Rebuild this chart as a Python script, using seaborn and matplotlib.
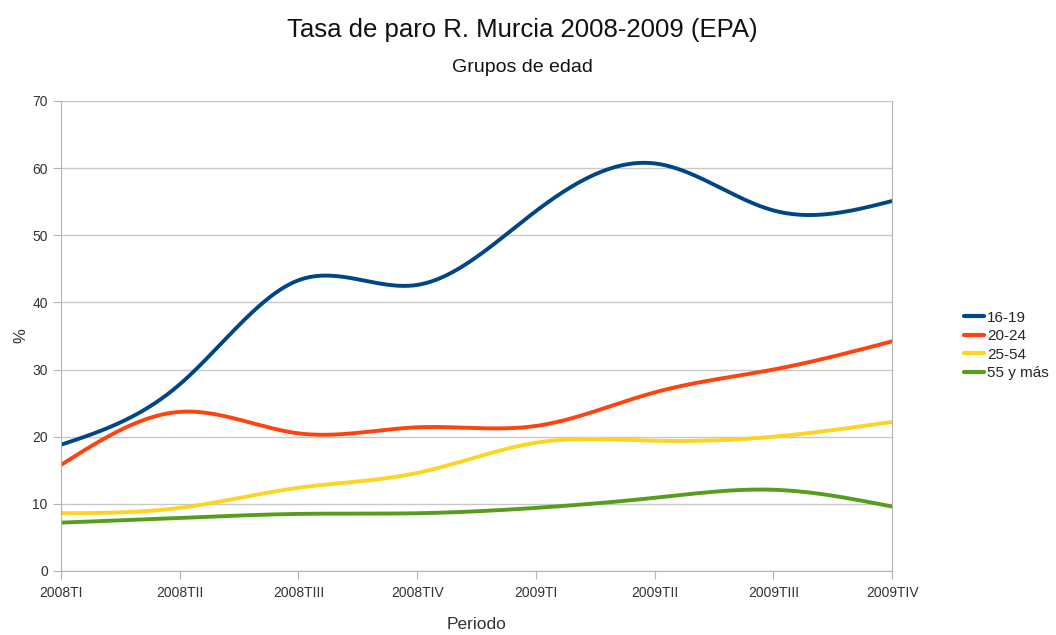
import numpy as np
import pandas as pd
import seaborn as sns
from matplotlib import pyplot as plt

# Data
periods = ['2008TI', '2008TII', '2008TIII', '2008TIV',
           '2009TI', '2009TII', '2009TIII', '2009TIV']
g16_19 = [18.8, 27.8, 43.3, 42.6, 53.6, 60.7, 53.7, 55.1]
g20_24 = [15.8, 23.7, 20.5, 21.4, 21.6, 26.6, 30.0, 34.2]
g25_54 = [8.6, 9.4, 12.4, 14.6, 19.1, 19.4, 20.0, 22.2]
g55 = [7.2, 7.9, 8.5, 8.6, 9.4, 10.9, 12.1, 9.6]

groups = ['16-19', '20-24', '25-54', '55 y más']
colors = ['#004586', '#ff420e', '#ffd320', '#579d1c']


def natural_spline(x, y, n=300):
    """Natural cubic spline through the points (like the smoothed lines of the original)."""
    x = np.asarray(x, float)
    y = np.asarray(y, float)
    k = len(x)
    h = np.diff(x)
    A = np.zeros((k, k))
    b = np.zeros(k)
    A[0, 0] = A[-1, -1] = 1
    for i in range(1, k - 1):
        A[i, i - 1] = h[i - 1]
        A[i, i] = 2 * (h[i - 1] + h[i])
        A[i, i + 1] = h[i]
        b[i] = 6 * ((y[i + 1] - y[i]) / h[i] - (y[i] - y[i - 1]) / h[i - 1])
    m = np.linalg.solve(A, b)
    xs = np.linspace(x[0], x[-1], n)
    idx = np.clip(np.searchsorted(x, xs) - 1, 0, k - 2)
    t0 = xs - x[idx]
    t1 = x[idx + 1] - xs
    hi = h[idx]
    ys = (m[idx] * t1 ** 3 + m[idx + 1] * t0 ** 3) / (6 * hi) \
        + (y[idx] / hi - m[idx] * hi / 6) * t1 \
        + (y[idx + 1] / hi - m[idx + 1] * hi / 6) * t0
    return xs, ys


xpos = np.arange(len(periods))
frames = []
for name, vals in zip(groups, [g16_19, g20_24, g25_54, g55]):
    xs, ys = natural_spline(xpos, vals)
    frames.append(pd.DataFrame({'x': xs, 'valor': ys, 'grupo': name}))
df = pd.concat(frames, ignore_index=True)

sns.set_style('white')
plt.rcParams['font.family'] = ['Liberation Sans', 'DejaVu Sans']

fig = plt.figure(figsize=(10.56, 6.35), dpi=100)
ax = fig.add_axes([0.0578, 0.1008, 0.7870, 0.7402])

sns.lineplot(data=df, x='x', y='valor', hue='grupo', palette=colors,
             linewidth=2.8, ax=ax, sort=False)

ax.set_xlim(0, len(periods) - 1)
ax.set_ylim(0, 70)
ax.set_yticks(range(0, 71, 10))
ax.set_xticks(xpos)
ax.set_xticklabels(periods)
ax.yaxis.grid(True, color='#c8c8c8', linewidth=1)
ax.xaxis.grid(False)
for side in ['left', 'bottom', 'right']:
    ax.spines[side].set_color('#b3b3b3')
    ax.spines[side].set_visible(True)
ax.spines['top'].set_visible(False)
ax.tick_params(axis='both', which='both', length=6, color='#b3b3b3',
               labelsize=10, labelcolor='#333333', direction='out',
               left=True, bottom=True)
ax.tick_params(axis='x', pad=5)

ax.set_xlabel('Periodo', fontsize=12.5, color='#333333', labelpad=12)
ax.set_ylabel('%', fontsize=12, color='#333333', labelpad=3)

fig.text(0.495, 0.952, 'Tasa de paro R. Murcia 2008-2009 (EPA)',
         ha='center', va='center', fontsize=18.5, color='#111111')
fig.text(0.495, 0.893, 'Grupos de edad', ha='center', va='center',
         fontsize=14, color='#111111')

leg = ax.legend(title=None, frameon=False, fontsize=11,
                loc='center left', bbox_to_anchor=(1.07, 0.48),
                handlelength=1.3, handletextpad=0.2, labelspacing=0.3)
for line in leg.get_lines():
    line.set_linewidth(3)

fig.savefig('out.png', dpi=100)
